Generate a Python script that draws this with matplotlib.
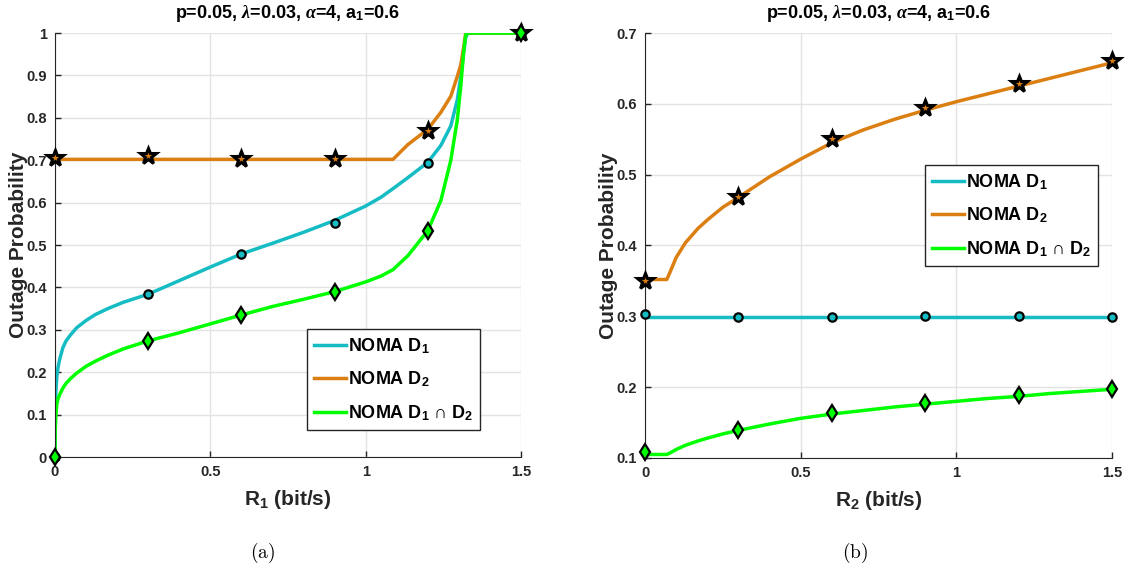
#
# ------ Outage probability vs. target rate (NOMA D1, D2, D1 n D2) ------
#

import matplotlib
matplotlib.use('Agg')
import matplotlib.pyplot as plt
from matplotlib.markers import MarkerStyle

plt.rcParams['font.family'] = ['Liberation Sans', 'DejaVu Sans']
plt.rcParams['font.weight'] = 'bold'
plt.rcParams['mathtext.fontset'] = 'custom'
plt.rcParams['mathtext.rm'] = 'Liberation Sans:bold'
plt.rcParams['mathtext.bf'] = 'Liberation Sans:bold'
plt.rcParams['mathtext.it'] = 'Liberation Serif:italic'

# ------ data (a): outage vs R1 ------
r1 = [0, 0.001, 0.003, 0.006, 0.01, 0.015, 0.025, 0.035, 0.05, 0.07,
      0.1, 0.13, 0.17, 0.22, 0.3, 0.4, 0.5, 0.6, 0.7, 0.8,
      0.9, 1.0, 1.05, 1.088, 1.136, 1.2, 1.242, 1.274, 1.295, 1.306,
      1.315, 1.322, 1.329, 1.4, 1.5]
d1_r1 = [0, 0.10, 0.157, 0.19, 0.212, 0.23, 0.257, 0.273, 0.288, 0.305,
         0.322, 0.336, 0.35, 0.365, 0.384, 0.416, 0.448, 0.479, 0.504, 0.53,
         0.558, 0.592, 0.613, 0.633, 0.659, 0.695, 0.735, 0.781, 0.843, 0.898,
         0.953, 0.99, 1.0, 1.0, 1.0]
d2_r1 = [0.702, 0.702, 0.702, 0.702, 0.702, 0.702, 0.702, 0.702, 0.702, 0.702,
         0.702, 0.702, 0.702, 0.702, 0.702, 0.702, 0.702, 0.702, 0.702, 0.702,
         0.702, 0.702, 0.702, 0.702, 0.737, 0.773, 0.813, 0.851, 0.898, 0.925,
         0.965, 1.0, 1.0, 1.0, 1.0]
d12_r1 = [0, 0.065, 0.10, 0.125, 0.138, 0.147, 0.162, 0.173, 0.185, 0.198,
          0.214, 0.226, 0.24, 0.255, 0.274, 0.293, 0.314, 0.335, 0.355, 0.372,
          0.39, 0.413, 0.427, 0.442, 0.475, 0.534, 0.605, 0.70, 0.796, 0.875,
          0.953, 0.996, 1.0, 1.0, 1.0]

# simulation points (a)
r1_sim = [0, 0.3, 0.6, 0.9, 1.2, 1.5]
d1_r1_sim = [0, 0.384, 0.479, 0.553, 0.694, 1.0]
d2_r1_sim = [0.706, 0.711, 0.702, 0.702, 0.77, 1.0]
d12_r1_sim = [0, 0.273, 0.335, 0.39, 0.533, 1.0]

# ------ data (b): outage vs R2 ------
r2 = [0, 0.07, 0.08, 0.1, 0.13, 0.17, 0.2, 0.25, 0.3, 0.4,
      0.5, 0.6, 0.7, 0.8, 0.9, 1.0, 1.1, 1.2, 1.3, 1.4, 1.5]
d1_r2 = [0.299, 0.299, 0.299, 0.299, 0.299, 0.299, 0.299, 0.299, 0.299, 0.299,
         0.299, 0.299, 0.299, 0.299, 0.299, 0.299, 0.299, 0.299, 0.299, 0.299, 0.299]
d2_r2 = [0.352, 0.352, 0.362, 0.383, 0.404, 0.424, 0.436, 0.454, 0.468, 0.497,
         0.522, 0.545, 0.563, 0.578, 0.591, 0.603, 0.614, 0.625, 0.636, 0.647, 0.658]
d12_r2 = [0.105, 0.105, 0.107, 0.112, 0.118, 0.124, 0.128, 0.134, 0.139, 0.148,
          0.156, 0.162, 0.167, 0.172, 0.176, 0.180, 0.184, 0.187, 0.191, 0.194, 0.197]

# simulation points (b)
r2_sim = [0, 0.3, 0.6, 0.9, 1.2, 1.5]
d1_r2_sim = [0.303, 0.299, 0.299, 0.300, 0.301, 0.299]
d2_r2_sim = [0.350, 0.468, 0.551, 0.594, 0.628, 0.661]
d12_r2_sim = [0.108, 0.140, 0.164, 0.177, 0.189, 0.198]

labels = [r'NOMA D$_{1}$', r'NOMA D$_{2}$', r'NOMA D$_{1}$ ∩ D$_{2}$']
title = r'p=0.05, $\lambda$=0.03, $\alpha$=4, a$_{1}$=0.6'

c_d1 = '#15BCC3'
c_d2 = '#DC7F12'
c_d12 = '#00FF00'
axis_col = '#262626'

star = MarkerStyle('*', joinstyle='miter')


def draw_panel(ax, x, y1, y2, y12, xs, s1, s2, s12, ylim, yticks, xlabel):
    h1, = ax.plot(x, y1, color=c_d1, linewidth=2.5)
    h2, = ax.plot(x, y2, color=c_d2, linewidth=2.5)
    h3, = ax.plot(x, y12, color=c_d12, linewidth=2.5)
    ax.plot(xs, s1, linestyle='none', marker='o', markersize=6, markerfacecolor=c_d1,
            markeredgecolor='k', markeredgewidth=1.6, clip_on=False, zorder=4)
    ax.plot(xs, s2, linestyle='none', marker=star, markersize=12, markerfacecolor=c_d2,
            markeredgecolor='k', markeredgewidth=2.2, clip_on=False, zorder=4)
    ax.plot(xs, s12, linestyle='none', marker='d', markersize=8.5, markerfacecolor=c_d12,
            markeredgecolor='k', markeredgewidth=1.6, clip_on=False, zorder=4)

    ax.set_xlim(0, 1.5)
    ax.set_ylim(*ylim)
    ax.set_xticks([0, 0.5, 1, 1.5])
    ax.set_xticklabels(['0', '0.5', '1', '1.5'])
    ax.set_yticks(yticks)
    ax.set_yticklabels(['%g' % v for v in yticks])
    ax.tick_params(direction='in', length=4, width=1, colors=axis_col, labelsize=10.5, pad=6)
    for lab in ax.get_xticklabels() + ax.get_yticklabels():
        lab.set_fontweight('bold')
    ax.spines['top'].set_visible(False)
    ax.spines['right'].set_visible(False)
    ax.spines['left'].set_color(axis_col)
    ax.spines['bottom'].set_color(axis_col)
    ax.grid(True, color='#E3E3E3', linewidth=1)
    ax.set_axisbelow(True)
    ax.set_xlabel(xlabel, fontsize=15, fontweight='bold', color=axis_col, labelpad=6)
    ax.set_ylabel('Outage Probability', fontsize=15, fontweight='bold', color=axis_col, labelpad=-1.5)
    ax.set_title(title, fontsize=13, fontweight='bold', pad=11)
    return [h1, h2, h3]


def add_legend(ax, hs, anchor):
    leg = ax.legend(hs, labels, loc='lower right', bbox_to_anchor=anchor,
                    fontsize=13, frameon=True, fancybox=False, edgecolor=axis_col,
                    handlelength=1.75, handletextpad=0.1, borderaxespad=0, borderpad=0.4,
                    labelspacing=0.75)
    leg.get_frame().set_linewidth(1)
    leg.get_frame().set_alpha(1)
    return leg


fig = plt.figure(figsize=(11.31, 5.74), dpi=100)
ax_a = fig.add_axes([0.0486, 0.2038, 0.4121, 0.7387])
ax_b = fig.add_axes([0.5703, 0.2021, 0.4129, 0.7404])

# ------ panel (a) ------
hs = draw_panel(ax_a, r1, d1_r1, d2_r1, d12_r1, r1_sim, d1_r1_sim, d2_r1_sim, d12_r1_sim,
                (0, 1), [0, 0.1, 0.2, 0.3, 0.4, 0.5, 0.6, 0.7, 0.8, 0.9, 1], r'R$_{1}$ (bit/s)')
add_legend(ax_a, hs, (0.912, 0.064))

# ------ panel (b) ------
hs = draw_panel(ax_b, r2, d1_r2, d2_r2, d12_r2, r2_sim, d1_r2_sim, d2_r2_sim, d12_r2_sim,
                (0.1, 0.7), [0.1, 0.2, 0.3, 0.4, 0.5, 0.6, 0.7], r'R$_{2}$ (bit/s)')
add_legend(ax_b, hs, (0.97, 0.452))

fig.text(263 / 1131, 1 - 553 / 574, r'$\mathrm{(a)}$', math_fontfamily='cm',
         fontsize=14, ha='center', va='center')
fig.text(855 / 1131, 1 - 553 / 574, r'$\mathrm{(b)}$', math_fontfamily='cm',
         fontsize=14, ha='center', va='center')

fig.savefig('out.png', dpi=100)
